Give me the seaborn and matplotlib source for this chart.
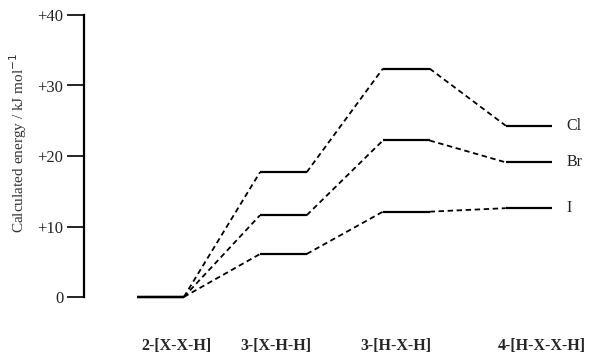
import matplotlib
matplotlib.use("Agg")
import matplotlib.pyplot as plt
import seaborn as sns
import pandas as pd

# Relative energies (kJ/mol) of the four structures for each halogen
structures = ["2-[X-X-H]", "3-[X-H-H]", "3-[H-X-H]", "4-[H-X-X-H]"]
halogens = ["Cl", "Br", "I"]
energy_cl = [0.0, 17.7, 32.4, 24.3]
energy_br = [0.0, 11.6, 22.2, 19.1]
energy_i = [0.0, 6.1, 12.1, 12.6]
y_ticks = [0, 10, 20, 30, 40]
y_tick_labels = ["0", "+10", "+20", "+30", "+40"]

energies = {"Cl": energy_cl, "Br": energy_br, "I": energy_i}

sns.set_style("white")
plt.rcParams["font.family"] = ["Liberation Serif", "DejaVu Serif"]

half = 0.19  # half-width of each energy level bar, in category units

# Connector segments: right end of one level to left end of the next
rows = []
for hal in halogens:
    e = energies[hal]
    for k in range(len(e) - 1):
        seg = f"{hal}-{k}"
        rows.append({"seg": seg, "x": k + half, "E": e[k], "order": 0})
        rows.append({"seg": seg, "x": k + 1 - half, "E": e[k + 1], "order": 1})
conn = pd.DataFrame(rows)

fig = plt.figure(figsize=(5.93, 3.59), dpi=100)
W, H = 593, 359
ax_left, ax_right = 84.3, 593
ax_top, ax_bottom = 15, 297
ax = fig.add_axes([ax_left / W, 1 - ax_bottom / H,
                   (ax_right - ax_left) / W, (ax_bottom - ax_top) / H])

# dashed connectors
sns.lineplot(data=conn, x="x", y="E", units="seg", estimator=None,
             sort=False, color="black", lw=1.3, ax=ax, legend=False,
             clip_on=False)
for line in ax.get_lines():
    line.set_dashes([3.0, 2.0])

# solid energy levels
for hal in halogens:
    for k, e in enumerate(energies[hal]):
        ax.plot([k - half, k + half], [e, e], color="black", lw=1.6,
                solid_capstyle="butt", clip_on=False, zorder=3)

# halogen labels at the right end
for hal in halogens:
    ax.text(3 + half + 0.115, energies[hal][-1], hal, ha="left", va="center",
            fontsize=11.5, color="#222222")

# structure labels under the diagram
label_x = [0.13, 0.94, 1.92, 3.1]
for xx, s in zip(label_x, structures):
    ax.text(xx, -6.9, s, ha="center", va="center", fontsize=11.5,
            fontweight="bold", clip_on=False)

ax.set_xlim(-0.62, 3.52)
ax.set_ylim(0, 40)
ax.set_yticks(y_ticks)
ax.set_yticklabels(y_tick_labels, fontsize=12, color="#222222")
ax.set_xticks([])
ax.set_xlabel("")
ax.set_ylabel("")
for side in ["top", "right", "bottom"]:
    ax.spines[side].set_visible(False)
ax.spines["left"].set_linewidth(1.6)
ax.spines["left"].set_color("black")
ax.tick_params(axis="y", direction="out", length=12, width=1.2,
               color="black", pad=3, left=True)

fig.text(18 / W, 1 - 143 / H, "Calculated energy / kJ mol$^{-1}$",
         rotation=90, ha="center", va="center", fontsize=11, color="#333333")

fig.savefig("out.png", dpi=100, facecolor="white")
